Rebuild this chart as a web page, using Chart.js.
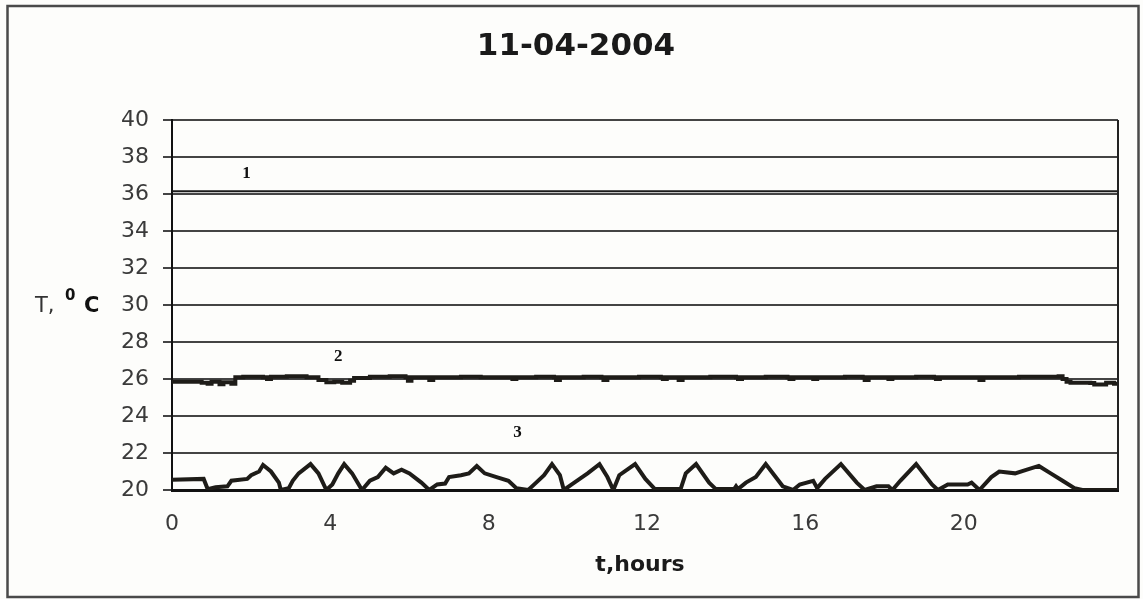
<!DOCTYPE html>
<html>
<head>
<meta charset="utf-8">
<title>11-04-2004</title>
<script src="https://cdn.jsdelivr.net/npm/chart.js@4"></script>
<style>
  html, body { margin: 0; padding: 0; background: #fdfdfb; }
  #wrap { width: 1143px; height: 599px; position: relative; }
</style>
</head>
<body>
<div id="wrap"><canvas id="chart"></canvas></div>
<script>
// hours / temperature
const hours1 = [0, 23.9];
const temp1 = [36.15, 36.15];

const hours2 = [0, 0.5, 0.75, 0.9, 1.0, 1.2, 1.3, 1.5, 1.6, 1.8, 2.3, 2.4, 2.5, 2.9, 3.4, 3.7, 3.9, 4.1, 4.3, 4.5, 4.6,
  5.0, 5.5, 5.9, 5.96, 6.05, 6.45, 6.5, 6.6, 7.3, 7.8, 8.5, 8.6, 8.7, 9.2, 9.65, 9.7, 9.8, 10.4, 10.85, 10.9, 11.0,
  11.8, 12.35, 12.4, 12.5, 12.75, 12.8, 12.9, 13.6, 14.25, 14.3, 14.4, 15.0, 15.55, 15.6, 15.7, 16.15, 16.2, 16.3,
  17.0, 17.45, 17.5, 17.6, 18.05, 18.1, 18.2, 18.8, 19.25, 19.3, 19.4, 20.35, 20.4, 20.5, 21.4, 22.3, 22.4, 22.5,
  22.6, 22.7, 23.0, 23.2, 23.3, 23.6, 23.8, 23.9];
const temp2 = [25.85, 25.85, 25.8, 25.75, 25.85, 25.72, 25.82, 25.75, 26.1, 26.12, 26.1, 26.0, 26.12, 26.15, 26.1, 25.95, 25.82, 25.85, 25.8, 25.9, 26.05,
  26.12, 26.15, 26.1, 25.9, 26.1, 26.1, 25.95, 26.1, 26.12, 26.1, 26.1, 26.0, 26.1, 26.12, 26.1, 25.95, 26.1, 26.12, 26.1, 25.95, 26.1,
  26.12, 26.1, 26.0, 26.1, 26.1, 25.95, 26.1, 26.12, 26.1, 26.0, 26.1, 26.12, 26.1, 26.0, 26.1, 26.1, 26.0, 26.1,
  26.12, 26.1, 25.95, 26.1, 26.1, 26.0, 26.1, 26.12, 26.1, 26.0, 26.1, 26.1, 25.95, 26.1, 26.12, 26.12, 26.15, 26.0,
  25.85, 25.8, 25.8, 25.78, 25.7, 25.8, 25.75, 25.7];

const hours3 = [0.0, 0.8, 0.9, 1.1, 1.4, 1.5, 1.9, 2.0, 2.2, 2.3, 2.5, 2.7, 2.75, 2.95, 3.05, 3.2, 3.5, 3.7, 3.9, 4.05,
  4.2, 4.35, 4.55, 4.8, 5.0, 5.2, 5.4, 5.6, 5.8, 6.0, 6.3, 6.5, 6.7, 6.9, 7.0, 7.3, 7.5, 7.7, 7.9, 8.2, 8.5, 8.7, 9.0,
  9.2, 9.4, 9.6, 9.8, 9.9, 10.1, 10.3, 10.5, 10.8, 11.0, 11.15, 11.3, 11.7, 11.96, 12.2, 12.85, 12.98, 13.24, 13.57,
  13.74, 14.2, 14.25, 14.3, 14.5, 14.75, 15.0, 15.43, 15.69, 15.86, 16.2, 16.3, 16.5, 16.9, 17.3, 17.5, 17.8, 18.1,
  18.2, 18.4, 18.8, 19.2, 19.35, 19.6, 20.1, 20.2, 20.4, 20.7, 20.9, 21.3, 21.6, 21.9, 22.2, 22.5, 22.8, 23.0, 23.9];
const temp3 = [20.55, 20.6, 20.05, 20.15, 20.2, 20.5, 20.6, 20.8, 21.0, 21.35, 21.0, 20.4, 20.0, 20.1, 20.5, 20.9, 21.4, 20.9, 20.0, 20.3,
  20.9, 21.4, 20.9, 20.0, 20.5, 20.7, 21.2, 20.9, 21.1, 20.9, 20.4, 20.0, 20.3, 20.35, 20.7, 20.8, 20.9, 21.3, 20.9, 20.7, 20.5, 20.1, 20.0,
  20.4, 20.8, 21.4, 20.8, 20.0, 20.3, 20.6, 20.9, 21.4, 20.7, 20.0, 20.8, 21.4, 20.6, 20.05, 20.05, 20.9, 21.4, 20.4,
  20.05, 20.05, 20.2, 20.05, 20.4, 20.7, 21.4, 20.2, 20.0, 20.3, 20.5, 20.1, 20.6, 21.4, 20.4, 20.0, 20.2, 20.2,
  20.0, 20.5, 21.4, 20.3, 20.0, 20.3, 20.3, 20.4, 20.0, 20.7, 21.0, 20.9, 21.1, 21.3, 20.9, 20.5, 20.1, 20.0, 20.0];

const xTickLabels = [0, 4, 8, 12, 16, 20];

const curveNames = ['1', '2', '3'];
const curveNameAt = [[1.88, 37.1], [4.2, 27.2], [8.73, 23.1]];

const chartTitle = '11-04-2004';
const xTitle = 't,hours';

function toPoints(xs, ys) {
  return xs.map((x, i) => ({ x: x, y: ys[i] }));
}

// frame, titles and the little curve numbers
const decorations = {
  id: 'decorations',
  beforeDraw(chart) {
    const ctx = chart.ctx;
    ctx.save();
    ctx.fillStyle = '#fdfdfb';
    ctx.fillRect(0, 0, chart.width, chart.height);
    ctx.strokeStyle = '#4a4a4a';
    ctx.lineWidth = 2.5;
    ctx.strokeRect(7.5, 6, 1131, 591);
    ctx.restore();
  },
  afterDraw(chart) {
    const ctx = chart.ctx;
    const a = chart.chartArea;
    const xs = chart.scales.x, ys = chart.scales.y;
    ctx.save();
    // right edge of the plot area
    ctx.strokeStyle = '#222';
    ctx.lineWidth = 2;
    ctx.beginPath();
    ctx.moveTo(a.right, a.top);
    ctx.lineTo(a.right, a.bottom);
    ctx.stroke();

    ctx.fillStyle = '#1a1a1a';
    ctx.textAlign = 'center';
    ctx.textBaseline = 'middle';
    ctx.font = 'bold 31px "DejaVu Sans"';
    ctx.fillText(chartTitle, 576, 47);

    ctx.font = 'bold 22px "DejaVu Sans"';
    ctx.fillText(xTitle, 640, 565);

    // y axis title "T, 0C"
    ctx.textAlign = 'left';
    ctx.textBaseline = 'alphabetic';
    ctx.fillStyle = '#333';
    ctx.font = '21px "DejaVu Sans"';
    ctx.fillText('T,', 35, 312);
    ctx.fillStyle = '#111';
    ctx.font = 'bold 15px "DejaVu Sans"';
    ctx.fillText('0', 65, 300);
    ctx.font = 'bold 21px "DejaVu Sans"';
    ctx.fillText('C', 84, 312);

    ctx.textAlign = 'center';
    ctx.textBaseline = 'middle';
    ctx.font = 'bold 17px "Liberation Serif"';
    curveNames.forEach((n, i) => {
      ctx.fillText(n, xs.getPixelForValue(curveNameAt[i][0]), ys.getPixelForValue(curveNameAt[i][1]));
    });
    ctx.restore();
  }
};

new Chart(document.getElementById('chart'), {
  type: 'line',
  data: {
    datasets: [
      { label: '1', data: toPoints(hours1, temp1), borderColor: '#1a1a1a', borderWidth: 2, pointRadius: 0 },
      { label: '2', data: toPoints(hours2, temp2), borderColor: '#1e1c18', borderWidth: 4, pointRadius: 0, stepped: true },
      { label: '3', data: toPoints(hours3, temp3), borderColor: '#1e1c18', borderWidth: 4, pointRadius: 0 }
    ]
  },
  options: {
    responsive: true,
    maintainAspectRatio: false,
    animation: false,
    layout: { padding: { left: 0, top: 120, right: 25, bottom: 0 } },
    plugins: {
      legend: { display: false },
      tooltip: { enabled: false },
      title: { display: false }
    },
    scales: {
      x: {
        type: 'linear',
        min: 0,
        max: 23.9,
        afterFit: function(scale) { scale.height = 109; },
        afterBuildTicks: function(scale) {
          scale.ticks = xTickLabels.map(v => ({ value: v }));
        },
        grid: { display: false },
        border: { display: true, color: '#111', width: 3 },
        ticks: {
          padding: 13,
          color: '#3a3a3a',
          font: { family: 'DejaVu Sans', size: 22 },
          maxRotation: 0
        }
      },
      y: {
        min: 20,
        max: 40,
        afterFit: function(scale) { scale.width = 172; },
        grid: { color: '#444', lineWidth: 2, tickLength: 9 },
        border: { display: true, color: '#111', width: 2 },
        ticks: {
          stepSize: 2,
          padding: 14,
          color: '#3a3a3a',
          font: { family: 'DejaVu Sans', size: 22 }
        }
      }
    }
  },
  plugins: [decorations]
});
</script>
</body>
</html>
